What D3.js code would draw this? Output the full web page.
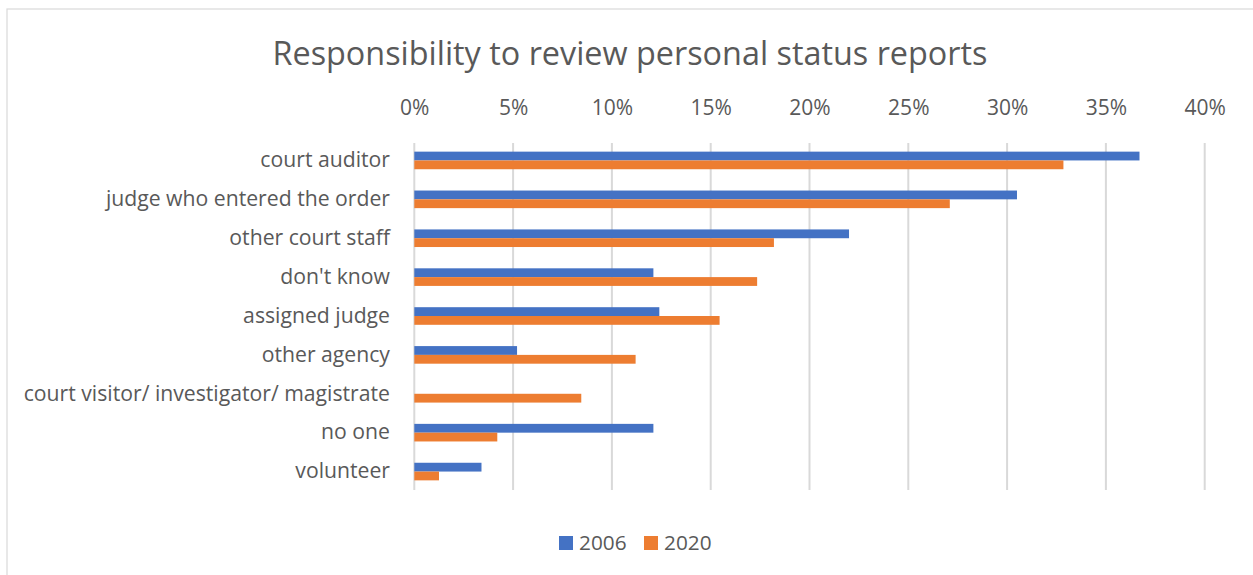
<!DOCTYPE html>
<html><head><meta charset="utf-8">
<script src="https://cdn.jsdelivr.net/npm/d3@7"></script>
<style>body{margin:0;background:#fff}svg{display:block}text{font-family:"Open Sans",Lato,sans-serif;fill:#595959}</style>
</head><body>
<svg id="c" width="1253" height="575"></svg>
<script>
const categories = ["court auditor","judge who entered the order","other court staff","don't know","assigned judge","other agency","court visitor/ investigator/ magistrate","no one","volunteer"];
const seriesNames = ["2006","2020"];
const values2006 = [36.7,30.5,22.0,12.1,12.4,5.2,0,12.1,3.4];
const values2020 = [32.85,27.1,18.2,17.35,15.45,11.2,8.45,4.2,1.25];
const tickValues = [0,5,10,15,20,25,30,35,40];
const colors = ["#4472c4","#ed7d31"];

const svg = d3.select("#c");
svg.append("rect").attr("x",7).attr("y",9).attr("width",1260).attr("height",580).attr("fill","#fff").attr("stroke","#d9d9d9").attr("stroke-width",1.2);

const x = d3.scaleLinear().domain([0,40]).range([414.3,1204.7]);
const y = d3.scaleBand().domain(categories).range([141,491]);
const inner = d3.scaleBand().domain(seriesNames).range([0,17.6]);
const series = [values2006, values2020];

svg.append("g").selectAll("line").data(tickValues).join("line")
  .attr("x1",d=>x(d)).attr("x2",d=>x(d)).attr("y1",143).attr("y2",490)
  .attr("stroke","#d9d9d9").attr("stroke-width",2);

const ax = svg.append("g").attr("transform","translate(0,108)")
  .call(d3.axisTop(x).tickValues(tickValues).tickFormat(d=>d+"%").tickSize(0).tickPadding(0));
ax.select(".domain").remove();
ax.selectAll("text").attr("font-size",21).attr("fill","#595959").attr("dy","0.35em").style("font-family",'"Open Sans",Lato,sans-serif');

const ay = svg.append("g").attr("transform","translate(390,0)")
  .call(d3.axisLeft(y).tickSize(0).tickPadding(0));
ay.select(".domain").remove();
ay.selectAll("text").attr("font-size",21.2).attr("fill","#595959").style("font-family",'"Open Sans",Lato,sans-serif');

seriesNames.forEach((s,i)=>{
  svg.append("g").selectAll("rect").data(categories).join("rect")
    .attr("x",x(0)).attr("y",c=>y(c)+y.bandwidth()/2-8.8+inner(s))
    .attr("width",(c,j)=>x(series[i][j])-x(0)).attr("height",inner.bandwidth())
    .attr("fill",colors[i]);
});

svg.append("text").attr("x",630).attr("y",54).attr("text-anchor","middle").attr("dy","0.35em")
  .attr("font-size",31).attr("id","title").text("Responsibility to review personal status reports");

const leg = svg.append("g");
const legX = [559,644];
seriesNames.forEach((s,i)=>{
  leg.append("rect").attr("x",legX[i]).attr("y",536).attr("width",14).attr("height",14).attr("fill",colors[i]);
  leg.append("text").attr("x",legX[i]+20).attr("y",543).attr("dy","0.35em").attr("font-size",20.8).text(s);
});

function fit(sel, target){const w=sel.node().getComputedTextLength();const fs=+sel.attr("font-size");sel.attr("font-size",fs*target/w);}
fit(svg.select("#title"),715);
</script>
</body></html>
